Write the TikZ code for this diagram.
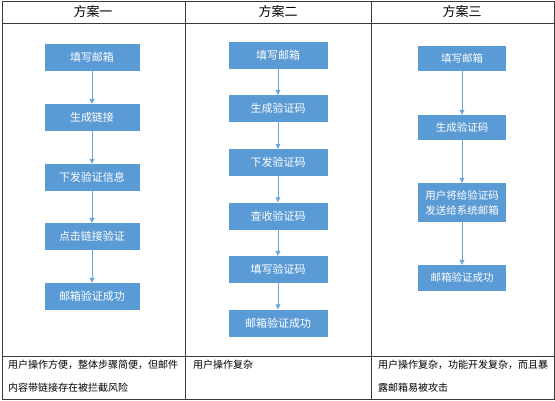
\documentclass[tikz,border=0pt]{standalone}
\usepackage{fontspec}
\setmainfont{Noto Sans CJK SC}
\usetikzlibrary{arrows.meta}
\definecolor{boxblue}{HTML}{5B9BD5}
\definecolor{lineblue}{HTML}{6FA5D9}
\definecolor{gridgray}{HTML}{3A3A3A}

\begin{document}
\begin{tikzpicture}[x=1pt, y=-1pt,
    stepbox/.style={fill=boxblue, text=white, inner sep=2pt, align=center,
        font=\fontsize{11}{14}\selectfont, minimum height=27pt},
    flow/.style={draw=lineblue, line width=0.8pt, -{Triangle[length=5pt,width=5pt]}},
    head/.style={font=\fontsize{13}{15}\selectfont},
    note/.style={anchor=north west, align=left, inner sep=0pt,
        font=\fontsize{10}{23}\selectfont}]
    \useasboundingbox (0,0) rectangle (555,400);

    % table
    \draw[gridgray, line width=0.9pt] (2,1) rectangle (554,399);
    \draw[gridgray, line width=0.9pt] (2,23) -- (554,23);
    \draw[gridgray, line width=0.9pt] (2,356) -- (554,356);
    \draw[gridgray, line width=0.9pt] (185,1) -- (185,399);
    \draw[gridgray, line width=0.9pt] (371,1) -- (371,399);

    \node[head] (h1) at (93, 12) {方案一};
    \node[head] (h2) at (278, 12) {方案二};
    \node[head] (h3) at (462, 12) {方案三};

    % scheme one
    \node[stepbox, minimum width=95pt] (a1) at (92, 57) {填写邮箱};
    \node[stepbox, minimum width=95pt] (a2) at (92, 117.5) {生成链接};
    \node[stepbox, minimum width=95pt] (a3) at (92, 177.5) {下发验证信息};
    \node[stepbox, minimum width=95pt] (a4) at (92, 236.5) {点击链接验证};
    \node[stepbox, minimum width=95pt] (a5) at (92, 296.5) {邮箱验证成功};

    \draw[flow] (a1) -- (a2);
    \draw[flow] (a2) -- (a3);
    \draw[flow] (a3) -- (a4);
    \draw[flow] (a4) -- (a5);

    % scheme two
    \node[stepbox, minimum width=99pt] (b1) at (278, 55.5) {填写邮箱};
    \node[stepbox, minimum width=99pt] (b2) at (278, 108.5) {生成验证码};
    \node[stepbox, minimum width=99pt] (b3) at (278, 162.5) {下发验证码};
    \node[stepbox, minimum width=99pt] (b4) at (278, 216) {查收验证码};
    \node[stepbox, minimum width=99pt] (b5) at (278, 269.5) {填写验证码};
    \node[stepbox, minimum width=99pt] (b6) at (278, 323) {邮箱验证成功};

    \draw[flow] (b1) -- (b2);
    \draw[flow] (b2) -- (b3);
    \draw[flow] (b3) -- (b4);
    \draw[flow] (b4) -- (b5);
    \draw[flow] (b5) -- (b6);

    % scheme three
    \node[stepbox, minimum width=88pt, minimum height=25pt, font=\fontsize{10.5}{14}\selectfont] (c1) at (462, 58.5) {填写邮箱};
    \node[stepbox, minimum width=88pt, minimum height=25pt, font=\fontsize{10.5}{14}\selectfont] (c2) at (462, 127.5) {生成验证码};
    \node[stepbox, minimum width=88pt, minimum height=39pt, font=\fontsize{10.5}{15}\selectfont] (c3) at (462, 202.5) {用户将给验证码\\发送给系统邮箱};
    \node[stepbox, minimum width=88pt, minimum height=26pt, font=\fontsize{10.5}{14}\selectfont] (c4) at (462, 278) {邮箱验证成功};

    \draw[flow] (c1) -- (c2);
    \draw[flow] (c2) -- (c3);
    \draw[flow] (c3) -- (c4);

    % remarks
    \node[note] (n1) at (8, 360) {用户操作方便，整体步骤简便，但邮件\\内容带链接存在被拦截风险};
    \node[note] (n2) at (193, 360) {用户操作复杂};
    \node[note] (n3) at (378, 360) {用户操作复杂，功能开发复杂，而且暴\\露邮箱易被攻击};
\end{tikzpicture}
\end{document}
